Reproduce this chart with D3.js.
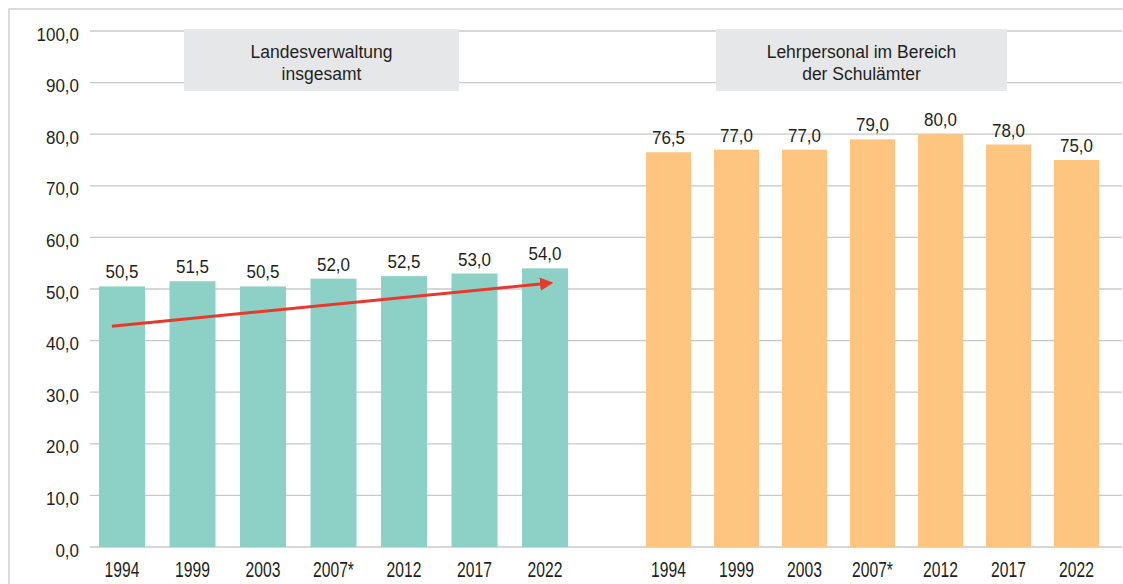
<!DOCTYPE html>
<html>
<head>
<meta charset="utf-8">
<script src="https://cdn.jsdelivr.net/npm/d3@7"></script>
<style>
  body { margin: 0; background: #fff; }
  svg { display: block; font-family: "Liberation Sans", Arial, sans-serif; }
</style>
</head>
<body>
<div id="chart"></div>
<script>
// data
const years = ["1994", "1999", "2003", "2007*", "2012", "2017", "2022"];
const landesverwaltung = [50.5, 51.5, 50.5, 52.0, 52.5, 53.0, 54.0];
const lehrpersonal = [76.5, 77.0, 77.0, 79.0, 80.0, 78.0, 75.0];
const groupTitles = [["Landesverwaltung", "insgesamt"], ["Lehrpersonal im Bereich", "der Schulämter"]];
const yTicks = [0, 10, 20, 30, 40, 50, 60, 70, 80, 90, 100];
// trend arrow: from 1994 to 2022 in the first group
const trendStart = { year: "1994", value: 42.8 };
const trendEnd = { year: "2022", value: 51.0 };

const width = 1123;
const height = 584;

const svg = d3.select("#chart")
    .append("svg")
    .attr("width", width)
    .attr("height", height);

const de = d3.formatLocale({ decimal: ",", thousands: ".", grouping: [3], currency: ["", " €"] });
const fmt = de.format(".1f");

const y = d3.scaleLinear().domain([0, 100]).range([547, 31]);

const x1 = d3.scaleBand().domain(years).range([99, 568]).paddingInner(0.3475).paddingOuter(0);
const x2 = d3.scaleBand().domain(years).range([646, 1099]).paddingInner(0.338).paddingOuter(0);

// outer frame
svg.append("rect")
    .attr("x", 9).attr("y", 9)
    .attr("width", width + 20).attr("height", height + 20)
    .attr("fill", "none")
    .attr("stroke", "#cfcfcf")
    .attr("stroke-width", 1.5);

// gridlines
svg.append("g")
    .selectAll("line")
    .data(yTicks)
    .enter()
    .append("line")
    .attr("x1", 90)
    .attr("x2", 1122)
    .attr("y1", d => y(d))
    .attr("y2", d => y(d))
    .attr("stroke", "#c8c8c8")
    .attr("stroke-width", 1.3);

// y tick labels
svg.append("g")
    .selectAll("text")
    .data(yTicks)
    .enter()
    .append("text")
    .attr("transform", d => `translate(79,${y(d) + 9.5}) scale(0.97,1.1)`)
    .attr("text-anchor", "end")
    .attr("font-size", 17.5)
    .attr("fill", "#231f20")
    .text(d => fmt(d));

// group title boxes
const boxes = [[184, 459], [716, 1007]];
boxes.forEach((b, i) => {
    svg.append("rect")
        .attr("x", b[0]).attr("y", 29)
        .attr("width", b[1] - b[0]).attr("height", 62)
        .attr("fill", "#e6e7e8");
    groupTitles[i].forEach((line, j) => {
        svg.append("text")
            .attr("x", (b[0] + b[1]) / 2)
            .attr("y", 57.5 + j * 22)
            .attr("text-anchor", "middle")
            .attr("font-size", 17.5)
            .attr("fill", "#231f20")
            .text(line);
    });
});

function drawGroup(xs, values, color) {
    const g = svg.append("g");
    g.selectAll("rect")
        .data(values)
        .enter()
        .append("rect")
        .attr("x", (d, i) => xs(years[i]))
        .attr("y", d => y(d))
        .attr("width", xs.bandwidth())
        .attr("height", d => y(0) - y(d))
        .attr("fill", color);

    g.selectAll("text.val")
        .data(values)
        .enter()
        .append("text")
        .attr("class", "val")
        .attr("transform", (d, i) => `translate(${xs(years[i]) + xs.bandwidth() / 2},${y(d) - 8}) scale(0.97,1.1)`)
        .attr("text-anchor", "middle")
        .attr("font-size", 17.5)
        .attr("fill", "#231f20")
        .text(d => fmt(d));

    g.selectAll("text.year")
        .data(years)
        .enter()
        .append("text")
        .attr("class", "year")
        .attr("transform", d => `translate(${xs(d) + xs.bandwidth() / 2},576.5) scale(0.95,1.38)`)
        .attr("text-anchor", "middle")
        .attr("font-size", 16.5)
        .attr("fill", "#231f20")
        .text(d => d);
}

drawGroup(x1, landesverwaltung, "#8dd1c6");
drawGroup(x2, lehrpersonal, "#fdc57f");

// red trend arrow
svg.append("defs").append("marker")
    .attr("id", "arrowhead")
    .attr("viewBox", "0 0 10 10")
    .attr("refX", 2).attr("refY", 5)
    .attr("markerWidth", 4.5).attr("markerHeight", 4.5)
    .attr("markerUnits", "strokeWidth")
    .attr("orient", "auto")
    .append("path")
    .attr("d", "M0,0 L10,5 L0,10 Z")
    .attr("fill", "#e8392e");

const ax0 = x1(trendStart.year) + x1.bandwidth() * 0.28;
const ax1 = x1(trendEnd.year) + x1.bandwidth() * 0.45;
svg.append("line")
    .attr("x1", ax0).attr("y1", y(trendStart.value))
    .attr("x2", ax1).attr("y2", y(trendEnd.value))
    .attr("stroke", "#e8392e")
    .attr("stroke-width", 3)
    .attr("marker-end", "url(#arrowhead)");
</script>
</body>
</html>
